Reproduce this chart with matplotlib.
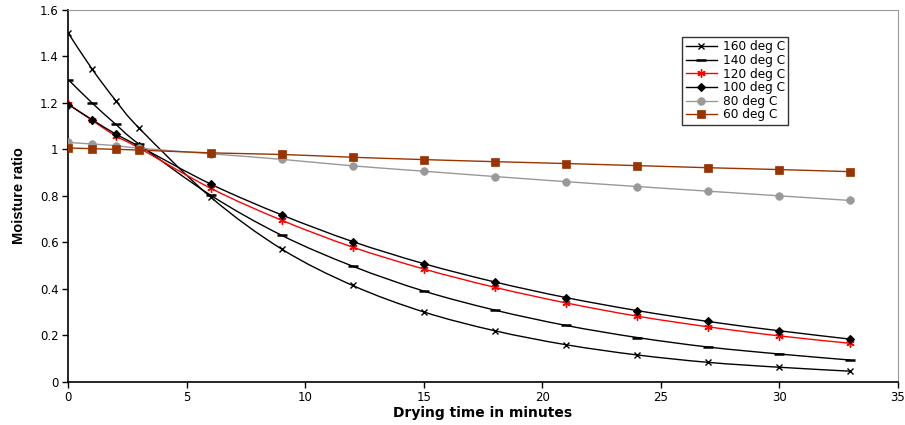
import numpy as np
import matplotlib.pyplot as plt
from matplotlib.path import Path
from matplotlib.patches import PathPatch
from matplotlib.lines import Line2D
from matplotlib.ticker import FormatStrFormatter

plt.rcParams["font.family"] = ["DejaVu Sans"]

# Drying time (minutes) and moisture ratio per temperature
time = [0, 1, 2, 3, 6, 9, 12, 15, 18, 21, 24, 27, 30, 33]
mr_160 = [1.50, 1.346, 1.21, 1.09, 0.795, 0.571, 0.414, 0.300, 0.219, 0.159, 0.115, 0.083, 0.062, 0.045]
mr_140 = [1.30, 1.20, 1.108, 1.021, 0.803, 0.630, 0.497, 0.390, 0.308, 0.242, 0.190, 0.149, 0.119, 0.093]
mr_120 = [1.195, 1.125, 1.058, 1.005, 0.833, 0.695, 0.579, 0.485, 0.406, 0.339, 0.282, 0.236, 0.197, 0.165]
mr_100 = [1.193, 1.128, 1.066, 1.013, 0.851, 0.718, 0.603, 0.508, 0.429, 0.362, 0.306, 0.259, 0.219, 0.183]
mr_80 = [1.03, 1.023, 1.016, 1.005, 0.981, 0.957, 0.929, 0.906, 0.883, 0.861, 0.840, 0.820, 0.800, 0.780]
mr_60 = [1.006, 1.003, 1.000, 0.997, 0.985, 0.978, 0.966, 0.956, 0.947, 0.939, 0.930, 0.921, 0.913, 0.904]

series = [
    ("160 deg C", mr_160, dict(color="black", marker="x", ms=5, mew=1.0, mfc="black")),
    ("140 deg C", mr_140, dict(color="black", marker="_", ms=7, mew=1.8, mfc="black")),
    ("120 deg C", mr_120, dict(color="red", marker=(6, 2, 0), ms=6, mew=1.0, mfc="red")),
    ("100 deg C", mr_100, dict(color="black", marker="D", ms=4.5, mew=0.8, mfc="black")),
    ("80 deg C", mr_80, dict(color="#999999", marker="o", ms=5.5, mew=0.5, mfc="#999999")),
    ("60 deg C", mr_60, dict(color="#993300", marker="s", ms=5.5, mew=0.5, mfc="#993300")),
]


def smooth_path(x, y, t=1 / 6):
    # Catmull-Rom style cubic Bezier through the points
    x = np.asarray(x, float)
    y = np.asarray(y, float)
    verts = [(x[0], y[0])]
    codes = [Path.MOVETO]
    n = len(x)
    for i in range(n - 1):
        p0 = i - 1 if i > 0 else i
        p3 = i + 2 if i + 2 < n else i + 1
        c1 = (x[i] + (x[i + 1] - x[p0]) * t, y[i] + (y[i + 1] - y[p0]) * t)
        c2 = (x[i + 1] - (x[p3] - x[i]) * t, y[i + 1] - (y[p3] - y[i]) * t)
        verts += [c1, c2, (x[i + 1], y[i + 1])]
        codes += [Path.CURVE4] * 3
    return Path(verts, codes)


fig = plt.figure(figsize=(9.05, 4.25), dpi=100)
ax = fig.add_axes([0.0755, 0.102, 0.9165, 0.8745])

handles = []
for label, vals, st in series:
    ax.add_patch(PathPatch(smooth_path(time, vals), facecolor="none",
                           edgecolor=st["color"], lw=1.0, zorder=2))
    ax.plot(time, vals, linestyle="none", marker=st["marker"], ms=st["ms"],
            mew=st["mew"], mfc=st["mfc"], mec=st["color"], zorder=3)
    handles.append(Line2D([], [], color=st["color"], lw=1.0, marker=st["marker"],
                          ms=st["ms"], mew=st["mew"], mfc=st["mfc"], mec=st["color"],
                          label=label))

ax.set_xlim(0, 35)
ax.set_ylim(0, 1.6)
ax.set_xticks(range(0, 36, 5))
ax.set_yticks(np.arange(0, 1.61, 0.2))
ax.yaxis.set_major_formatter(FormatStrFormatter("%g"))
ax.tick_params(labelsize=8.5, length=4, width=1, direction="out", pad=3)
ax.spines["top"].set_color("#999999")
ax.spines["right"].set_color("#999999")
ax.spines["left"].set_linewidth(1.2)
ax.spines["bottom"].set_linewidth(1.2)

ax.set_xlabel("Drying time in minutes", fontsize=10, fontweight="bold", labelpad=1)
ax.set_ylabel("Moisture ratio", fontsize=10.5, fontweight="bold", labelpad=10,
              family=["Liberation Sans Narrow", "Liberation Sans", "DejaVu Sans"])

leg = ax.legend(handles=handles, loc="upper left", bbox_to_anchor=(0.74, 0.928),
                fontsize=8.7, frameon=True, fancybox=False, edgecolor="black",
                handlelength=2.6, borderpad=0.3, labelspacing=0.05, handletextpad=0.45,
                borderaxespad=0)
leg.get_frame().set_linewidth(1.0)

fig.savefig("out.png", dpi=100)
